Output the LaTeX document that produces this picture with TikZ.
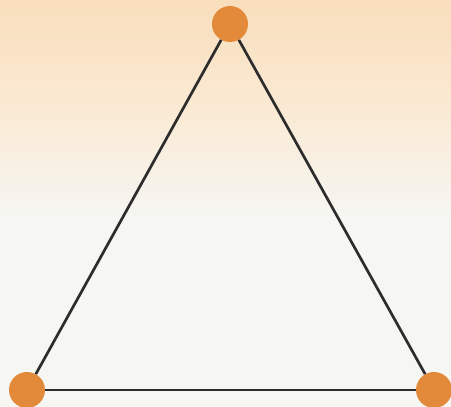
\documentclass[tikz,border=0pt]{standalone}
\definecolor{peach}{RGB}{249,222,188}
\definecolor{peachmid}{RGB}{250,234,212}
\definecolor{offwhite}{RGB}{246,246,242}
\definecolor{dotorange}{RGB}{226,138,58}
\definecolor{edgegray}{RGB}{45,45,45}
\begin{document}
\begin{tikzpicture}[x=1pt,y=1pt,
  vertex/.style={circle,fill=dotorange,minimum size=36pt,inner sep=0pt},
  edge/.style={draw=edgegray,line width=2.7pt}]
\useasboundingbox (0,0) rectangle (451,407);
\fill[offwhite] (0,0) rectangle (451,407);
\shade[top color=peach,bottom color=peachmid] (0,407) rectangle (451,297);
\shade[top color=peachmid,bottom color=offwhite] (0,297.5) rectangle (451,190);
\node[vertex] (t) at (230,383) {};
\node[vertex] (l) at (27,17) {};
\node[vertex] (r) at (434,17) {};
\draw[edge] (t) -- (l);
\draw[edge] (l) -- (r);
\draw[edge] (r) -- (t);
\end{tikzpicture}
\end{document}
